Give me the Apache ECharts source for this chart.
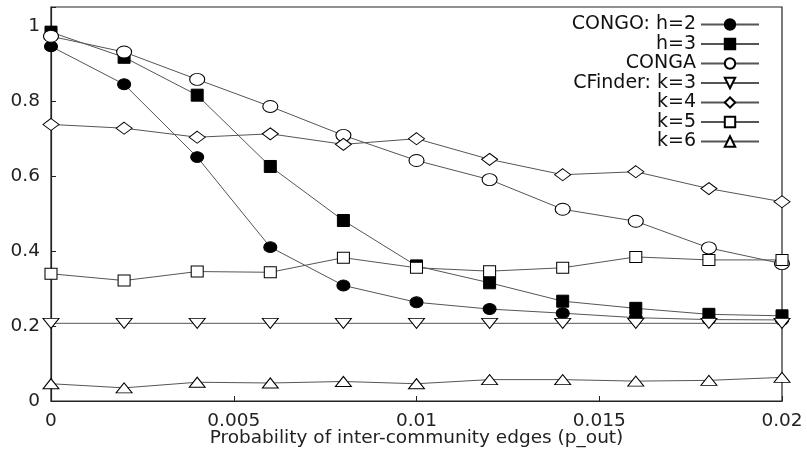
<!DOCTYPE html>
<html><head><meta charset="utf-8">
<script src="https://cdn.jsdelivr.net/npm/echarts@6/dist/echarts.min.js"></script>
<style>html,body{margin:0;padding:0;background:#fff}#c{width:807px;height:452px}</style>
</head><body><div id="c"></div>
<script>
const xValues = [0, 0.002, 0.004, 0.006, 0.008, 0.01, 0.012, 0.014, 0.016, 0.018, 0.02];
const congoH2 = [0.945, 0.844, 0.65, 0.41, 0.308, 0.263, 0.245, 0.234, 0.222, 0.217, 0.216];
const congoH3 = [0.983, 0.916, 0.815, 0.625, 0.481, 0.36, 0.315, 0.266, 0.247, 0.231, 0.227];
const conga   = [0.972, 0.93, 0.857, 0.785, 0.708, 0.641, 0.59, 0.511, 0.479, 0.408, 0.366];
const cfK3    = [0.207, 0.207, 0.207, 0.207, 0.207, 0.207, 0.207, 0.207, 0.207, 0.207, 0.207];
const cfK4    = [0.737, 0.727, 0.703, 0.712, 0.684, 0.699, 0.644, 0.603, 0.611, 0.566, 0.531];
const cfK5    = [0.339, 0.321, 0.345, 0.343, 0.382, 0.355, 0.346, 0.355, 0.384, 0.376, 0.376];
const cfK6    = [0.046, 0.035, 0.05, 0.048, 0.052, 0.046, 0.057, 0.057, 0.053, 0.055, 0.063];
const seriesNames = ['CONGO: h=2', 'h=3', 'CONGA', 'CFinder: k=3', 'k=4', 'k=5', 'k=6'];
const xTicks = ['0', '0.005', '0.01', '0.015', '0.02'];
const yTicks = ['0', '0.2', '0.4', '0.6', '0.8', '1'];
const xTitle = 'Probability of inter-community edges (p_out)';

const FONT = '"DejaVu Sans", "Liberation Sans", Arial, sans-serif';
const pair = arr => arr.map((v, i) => [xValues[i], v]);
const styles = [
  {symbol: 'circle', size: [13, 11], fill: '#000', rot: 0},
  {symbol: 'rect', size: [12, 12], fill: '#000', rot: 0},
  {symbol: 'circle', size: [15, 12], fill: '#fff', rot: 0},
  {symbol: 'triangle', size: [16, 10], fill: '#fff', rot: 180},
  {symbol: 'diamond', size: [16, 12], fill: '#fff', rot: 0},
  {symbol: 'rect', size: [12, 11], fill: '#fff', rot: 0},
  {symbol: 'triangle', size: [16, 10], fill: '#fff', rot: 0}
];
const datasets = [congoH2, congoH3, conga, cfK3, cfK4, cfK5, cfK6];

const chart = echarts.init(document.getElementById('c'), null, {renderer: 'canvas'});
chart.setOption({
  animation: false,
  backgroundColor: '#fff',
  grid: {left: 51, right: 25, top: 7, bottom: 51, show: true, borderColor: '#222', borderWidth: 1.2,
         backgroundColor: 'transparent', containLabel: false, outerBoundsMode: 'none'},
  legend: {
    data: seriesNames,
    orient: 'vertical',
    align: 'right',
    right: 47,
    top: 15,
    padding: 0,
    itemWidth: 58,
    itemHeight: 13,
    itemGap: 0.5,
    textStyle: {fontFamily: FONT, fontSize: 19, color: '#111', lineHeight: 16}
  },
  xAxis: {
    type: 'value', min: 0, max: 0.02, interval: 0.005,
    name: xTitle, nameLocation: 'middle', nameGap: 28, nameMoveOverlap: false,
    nameTextStyle: {fontFamily: FONT, fontSize: 18.5, color: '#222'},
    axisLine: {show: true, lineStyle: {color: '#222', width: 1.2}},
    axisTick: {show: true, inside: true, length: 5, lineStyle: {color: '#222'}},
    axisLabel: {fontFamily: FONT, fontSize: 18.5, color: '#222', margin: 11,
      formatter: v => { const i = Math.round(v / 0.005); return Math.abs(v - i * 0.005) < 1e-9 ? xTicks[i] : ''; }},
    splitLine: {show: false}
  },
  yAxis: {
    type: 'value', min: 0, max: 1.05, interval: 0.2,
    axisLine: {show: true, lineStyle: {color: '#222', width: 1.2}},
    axisTick: {show: true, inside: true, length: 5, lineStyle: {color: '#222'}},
    axisLabel: {fontFamily: FONT, fontSize: 18.5, color: '#222', margin: 11,
      formatter: v => { const i = Math.round(v / 0.2); return Math.abs(v - i * 0.2) < 1e-6 && i < yTicks.length ? yTicks[i] : ''; }},
    splitLine: {show: false}
  },
  series: datasets.map((d, k) => ({
    name: seriesNames[k],
    type: 'line',
    data: pair(d),
    symbol: styles[k].symbol,
    symbolSize: styles[k].size,
    symbolRotate: styles[k].rot,
    showAllSymbol: true,
    lineStyle: {color: '#555', width: 1},
    itemStyle: {color: styles[k].fill, borderColor: '#000', borderWidth: 1},
    emphasis: {disabled: true},
    z: 2 + k
  }))
});
</script></body></html>
